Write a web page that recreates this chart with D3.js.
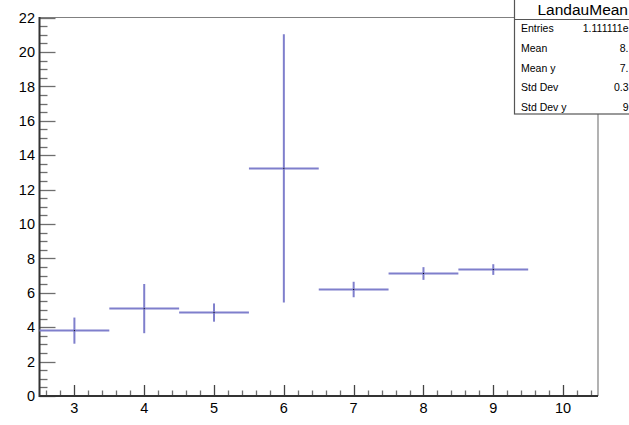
<!DOCTYPE html>
<html>
<head>
<meta charset="utf-8">
<script src="https://cdn.jsdelivr.net/npm/d3@7"></script>
<style>
html,body{margin:0;padding:0;background:#fff;overflow:hidden;}
svg{display:block;}
text{font-family:"Liberation Sans",Arial,Helvetica,sans-serif;}
</style>
</head>
<body>
<svg id="c" width="629" height="425"></svg>
<script>
// Data
const binCenters = [3, 4, 5, 6, 7, 8, 9];
const meanValues = [3.80, 5.08, 4.85, 13.23, 6.19, 7.12, 7.35];
const errValues  = [0.76, 1.43, 0.53, 7.80, 0.45, 0.37, 0.31];
const binHalfWidth = 0.5;
const xTicks = [3, 4, 5, 6, 7, 8, 9, 10];
const yTicks = [0, 2, 4, 6, 8, 10, 12, 14, 16, 18, 20, 22];
const statLabels = ["Entries", "Mean", "Mean y", "Std Dev", "Std Dev y"];
const statValues = ["1.111111e", "8.", "7.", "0.3", "9"];
const statTitle = "LandauMean";

const svg = d3.select("#c");
const L = 39.5, R = 598, T = 17.5, B = 396;
const x = d3.scaleLinear().domain([2.5, 10.5]).range([L, R]);
const y = d3.scaleLinear().domain([0, 22]).range([B, T]);

// frame top/right
svg.append("path")
  .attr("d", `M${L},${T}H${R}V${B}`)
  .attr("fill", "none").attr("stroke", "#808080").attr("stroke-width", 1.2);

// y minor ticks
const yMinor = d3.range(0, 22.001, 0.5).filter(v => Math.abs(v % 2) > 1e-6);
svg.append("g").selectAll("line").data(yMinor).join("line")
  .attr("x1", L).attr("x2", L + 8)
  .attr("y1", d => Math.round(y(d)) + 0.5).attr("y2", d => Math.round(y(d)) + 0.5)
  .attr("stroke", "#6e6e6e").attr("stroke-width", 1.3);
svg.append("g").selectAll("line").data(yTicks).join("line")
  .attr("x1", L).attr("x2", L + 16)
  .attr("y1", d => Math.round(y(d)) + 0.5).attr("y2", d => Math.round(y(d)) + 0.5)
  .attr("stroke", "#6e6e6e").attr("stroke-width", 1.3);
svg.append("g").selectAll("text").data(yTicks).join("text")
  .attr("x", 35).attr("y", d => y(d) + 5.2)
  .attr("text-anchor", "end").attr("font-size", 14.5).attr("fill", "#000")
  .text(d => d);

// x minor ticks
const xMinor = d3.range(2.6, 10.45, 0.2).filter(v => Math.abs(v - Math.round(v)) > 1e-6);
svg.append("g").selectAll("line").data(xMinor).join("line")
  .attr("x1", d => Math.round(x(d)) + 0.5).attr("x2", d => Math.round(x(d)) + 0.5)
  .attr("y1", B).attr("y2", B - 5.5)
  .attr("stroke", "#6e6e6e").attr("stroke-width", 1.3);
svg.append("g").selectAll("line").data(xTicks).join("line")
  .attr("x1", d => Math.round(x(d)) + 0.5).attr("x2", d => Math.round(x(d)) + 0.5)
  .attr("y1", B).attr("y2", B - 11)
  .attr("stroke", "#444").attr("stroke-width", 1.3);
svg.append("g").selectAll("text").data(xTicks).join("text")
  .attr("x", d => x(d)).attr("y", 412.5)
  .attr("text-anchor", "middle").attr("font-size", 14.5).attr("fill", "#000")
  .text(d => d);

// axis lines
svg.append("line").attr("x1", L).attr("x2", R).attr("y1", B).attr("y2", B)
  .attr("stroke", "#333").attr("stroke-width", 2);
svg.append("line").attr("x1", L).attr("x2", L).attr("y1", T - 0.5).attr("y2", B + 1)
  .attr("stroke", "#333").attr("stroke-width", 2);

// error bars
const pts = binCenters.map((c, i) => ({c, m: meanValues[i], e: errValues[i]}));
const gp = svg.append("g").attr("stroke", "#7f7fcc").attr("stroke-width", 2).attr("fill", "none");
gp.selectAll(".h").data(pts).join("line").attr("class", "h")
  .attr("x1", d => x(d.c - binHalfWidth)).attr("x2", d => x(d.c + binHalfWidth))
  .attr("y1", d => y(d.m)).attr("y2", d => y(d.m));
gp.selectAll(".v").data(pts).join("line").attr("class", "v")
  .attr("x1", d => x(d.c)).attr("x2", d => x(d.c))
  .attr("y1", d => y(d.m - d.e)).attr("y2", d => y(d.m + d.e));
svg.append("g").selectAll("rect").data(pts).join("rect")
  .attr("x", d => x(d.c) - 0.5).attr("y", d => y(d.m) - 0.5)
  .attr("width", 1).attr("height", 1).attr("fill", "#000");

// stats box
const sx = 514;
const sb = svg.append("g");
sb.append("rect").attr("x", sx + 0.5).attr("y", -2).attr("width", 140).attr("height", 116)
  .attr("fill", "#fff").attr("stroke", "#555").attr("stroke-width", 1.2);
sb.append("line").attr("x1", sx).attr("x2", 640).attr("y1", 19.5).attr("y2", 19.5)
  .attr("stroke", "#555").attr("stroke-width", 1.2);
sb.append("text").attr("x", 537.5).attr("y", 15).attr("font-size", 15.5).attr("fill", "#000")
  .text(statTitle);
sb.selectAll(".sl").data(statLabels).join("text").attr("class", "sl")
  .attr("x", 521).attr("y", (d, i) => 32 + i * 19.8)
  .attr("font-size", 10.5).attr("fill", "#000").text(d => d);
sb.selectAll(".sv").data(statValues).join("text").attr("class", "sv")
  .attr("x", 628.5).attr("y", (d, i) => 32 + i * 19.8)
  .attr("text-anchor", "end")
  .attr("font-size", 10.5).attr("fill", "#000").text(d => d);
</script>
</body>
</html>
